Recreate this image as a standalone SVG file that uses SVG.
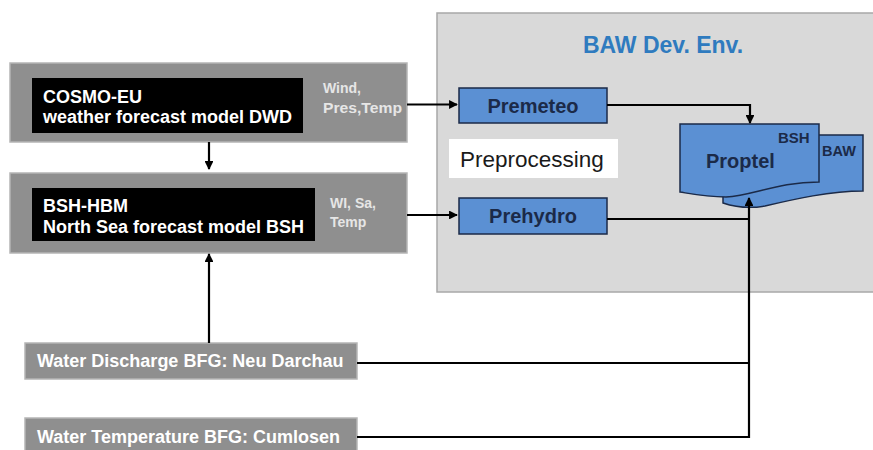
<svg xmlns="http://www.w3.org/2000/svg" width="873" height="450" viewBox="0 0 873 450">
<style>
.outer{fill:#8f8f8f;stroke:#b5b5b5;stroke-width:1.5}
.inner{fill:#000}
.wt{font-family:"Liberation Sans",Arial,sans-serif;font-weight:bold;fill:#ffffff;font-size:18px}
.lbl{font-family:"Liberation Sans",Arial,sans-serif;font-weight:bold;fill:#e6e6e6;font-size:14px}
.blue{fill:#5b90d3;stroke:#1b2a48;stroke-width:1.5}
.bt{font-family:"Liberation Sans",Arial,sans-serif;font-weight:bold;fill:#1b2a48}
.ln{fill:none;stroke:#000;stroke-width:2.2}
</style>
<defs>
<marker id="ah" viewBox="0 0 10 10" refX="9" refY="5" markerWidth="4" markerHeight="4" orient="auto" markerUnits="strokeWidth">
<path d="M0,0 L10,5 L0,10 Z" fill="#000"/>
</marker>
</defs>
<rect width="873" height="450" fill="#ffffff"/>
<g id="baw-env">
<rect x="437" y="13" width="440" height="279" fill="#d9d9d9" stroke="#a8a8a8" stroke-width="1.5"/>
<text x="663" y="53" text-anchor="middle" font-family="Liberation Sans,Arial,sans-serif" font-weight="bold" font-size="23" fill="#2f7bbf">BAW Dev. Env.</text>
</g>
<g id="preprocessing">
<rect x="449" y="139" width="169" height="39" fill="#ffffff"/>
<text x="460" y="167" font-family="Liberation Sans,Arial,sans-serif" font-size="22.5" fill="#1a1a1a">Preprocessing</text>
</g>
<g id="cosmo">
<rect class="outer" x="10" y="63" width="397" height="79"/>
<rect class="inner" x="32" y="78" width="271" height="55"/>
<text class="wt" x="43" y="103">COSMO-EU</text>
<text class="wt" x="43" y="123">weather forecast model DWD</text>
<text class="lbl" x="323" y="93">Wind,</text>
<text class="lbl" x="323" y="113" textLength="79" lengthAdjust="spacingAndGlyphs">Pres,Temp</text>
</g>
<g id="bsh-hbm">
<rect class="outer" x="10" y="173" width="397" height="80"/>
<rect class="inner" x="32" y="188" width="283" height="53"/>
<text class="wt" x="43" y="212">BSH-HBM</text>
<text class="wt" x="43" y="233">North Sea forecast model BSH</text>
<text class="lbl" x="330" y="208">WI, Sa,</text>
<text class="lbl" x="330" y="227">Temp</text>
</g>
<g id="discharge">
<rect class="outer" x="25" y="343" width="332" height="36"/>
<text class="wt" x="37" y="367">Water Discharge BFG: Neu Darchau</text>
</g>
<g id="temperature">
<rect class="outer" x="25" y="418" width="332" height="36"/>
<text class="wt" x="37" y="443">Water Temperature BFG: Cumlosen</text>
</g>
<g id="premeteo">
<rect class="blue" x="459" y="88" width="148" height="35"/>
<text class="bt" x="533" y="113" text-anchor="middle" font-size="20">Premeteo</text>
</g>
<g id="prehydro">
<rect class="blue" x="459" y="198" width="148" height="36"/>
<text class="bt" x="533" y="223" text-anchor="middle" font-size="20">Prehydro</text>
</g>
<g id="proptel">
<path class="blue" d="M740,135 H863 V191 C830,191 795,199 765,206 C748,209 735,207 723,203 V150 Z"/>
<path class="blue" d="M680,124 H819 V182 C778,182 752,196 726,197 C706,197 692,194 680,192 Z"/>
<text class="bt" x="706" y="168" font-size="20">Proptel</text>
<text class="bt" x="778" y="143" font-size="15">BSH</text>
<text class="bt" x="822" y="156" font-size="14.5">BAW</text>
</g>
<g id="connectors">
<path class="ln" d="M407,104.5 H457" marker-end="url(#ah)"/>
<path class="ln" d="M407,215 H457" marker-end="url(#ah)"/>
<path class="ln" d="M209,142 V169" marker-end="url(#ah)"/>
<path class="ln" d="M209,343 V254" marker-end="url(#ah)"/>
<path class="ln" d="M607,105 H750 V123" marker-end="url(#ah)"/>
<path class="ln" d="M607,219 H749"/>
<path class="ln" d="M357,363 H749"/>
<path class="ln" d="M357,437 H749 V198" stroke-width="2.6" marker-end="url(#ah)"/>
</g>
</svg>
